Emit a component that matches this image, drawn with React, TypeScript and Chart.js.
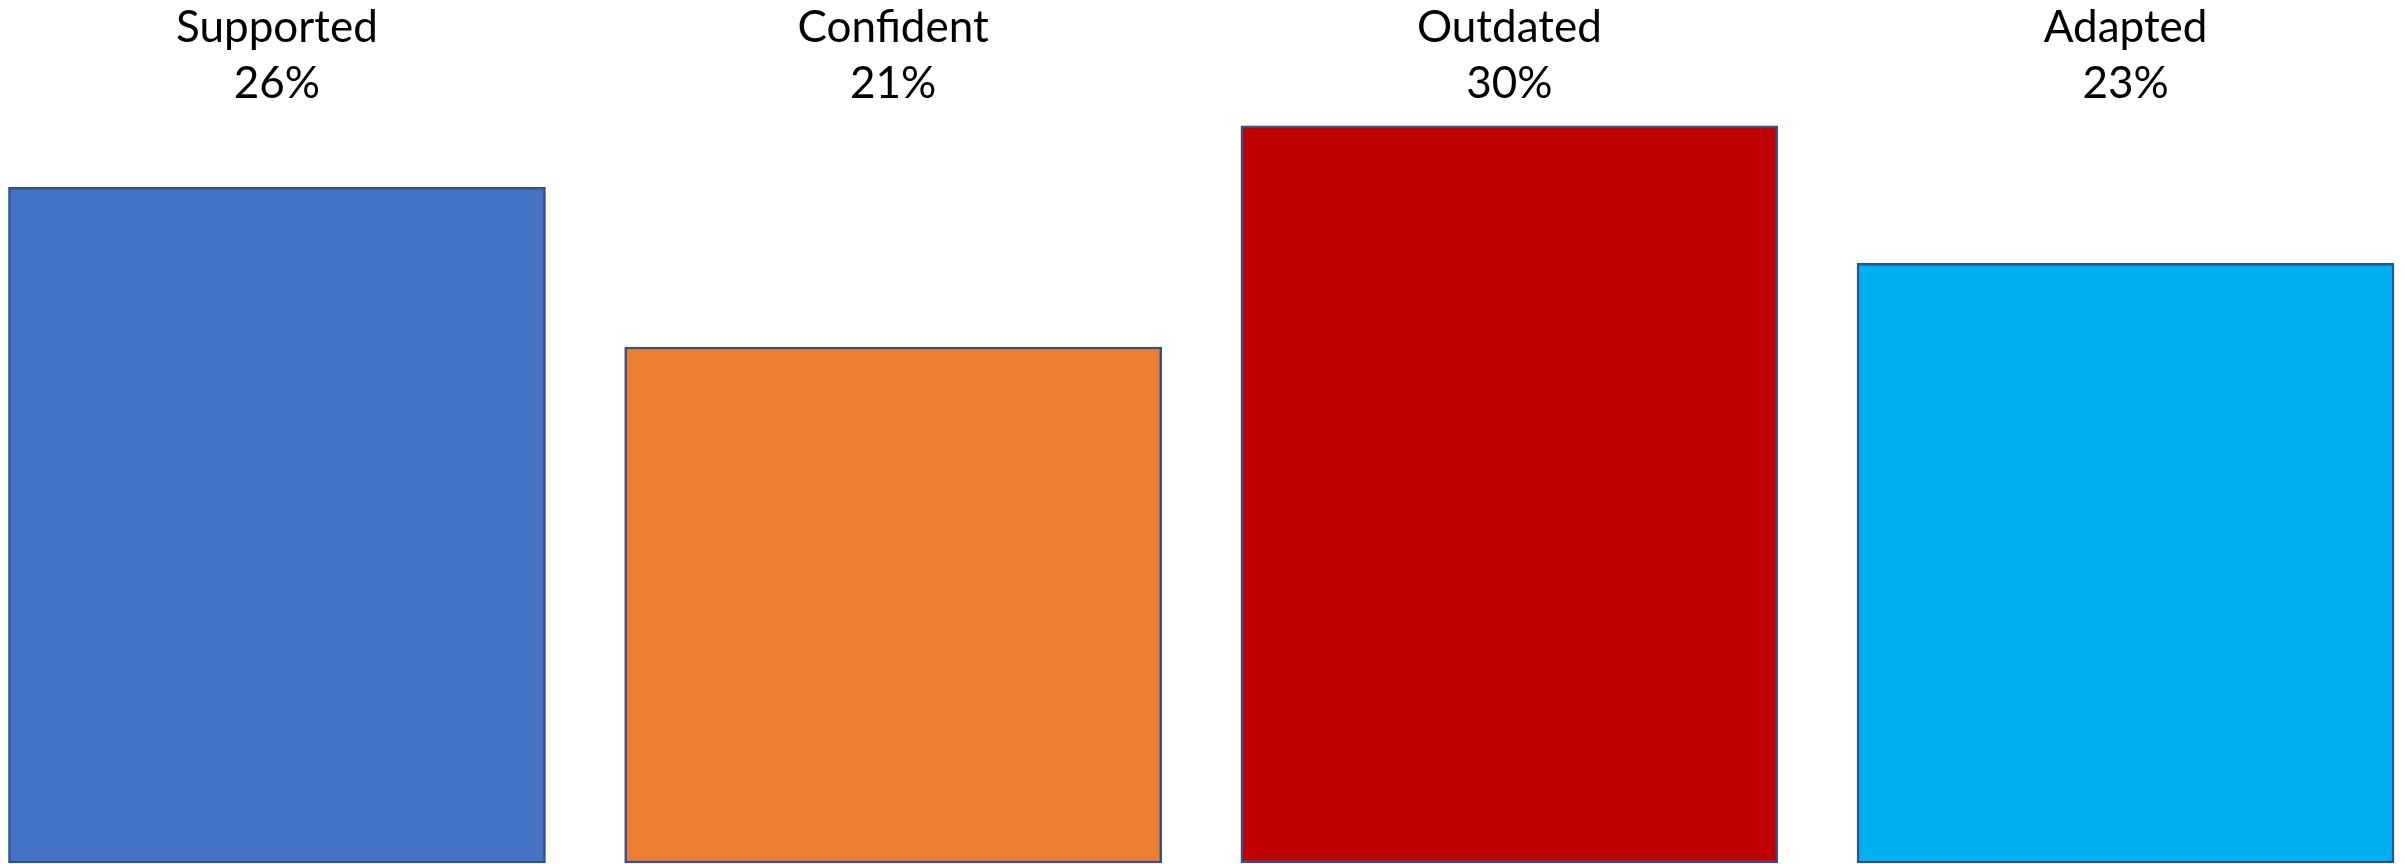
import React, { useEffect, useRef } from "react";
import { Chart, registerables } from "chart.js";

Chart.register(...registerables);

const categories = ["Supported", "Confident", "Outdated", "Adapted"];
const barValues = [27.5, 21.0, 30.0, 24.4];
const percentLabels = ["26%", "21%", "30%", "23%"];
const barColors = ["#4472C4", "#ED7D31", "#C00000", "#00B0F0"];

const labelPlugin = {
  id: "topLabels",
  afterDatasetsDraw(chart: any) {
    const ctx = chart.ctx;
    const xs = chart.scales.x;
    ctx.save();
    ctx.fillStyle = "#000000";
    ctx.textAlign = "center";
    ctx.textBaseline = "alphabetic";
    ctx.font = "44px Lato";
    categories.forEach((c, i) => {
      const x = xs.getPixelForValue(i);
      ctx.fillText(c, x, 42);
      ctx.fillText(percentLabels[i], x, 98);
    });
    ctx.restore();
  },
};

export default function App() {
  const ref = useRef<HTMLCanvasElement | null>(null);
  useEffect(() => {
    document.body.style.margin = "0";
    const canvas = ref.current;
    if (!canvas) return;
    const chart = new Chart(canvas, {
      type: "bar",
      data: {
        datasets: [
          {
            data: barValues.map((v, i) => ({ x: i, y: v })),
            backgroundColor: barColors,
            borderColor: "#2F528F",
            borderWidth: 2.5,
            borderSkipped: false,
            barThickness: 537,
            clip: false as any,
          },
        ],
      },
      options: {
        animation: false,
        responsive: false,
        maintainAspectRatio: false,
        layout: { padding: { left: 0, right: 0, top: 0, bottom: 1 } },
        plugins: { legend: { display: false }, tooltip: { enabled: false } },
        scales: {
          x: {
            type: "linear",
            display: false,
            offset: false,
            min: -0.4495,
            max: 3.4535,
          },
          y: {
            display: false,
            min: 0,
            max: 35.12,
          },
        },
      },
      plugins: [labelPlugin],
    });
    return () => chart.destroy();
  }, []);
  return (
    <div style={{ width: 2405, height: 864, background: "#ffffff" }}>
      <canvas ref={ref} width={2405} height={864} style={{ display: "block" }} />
    </div>
  );
}
